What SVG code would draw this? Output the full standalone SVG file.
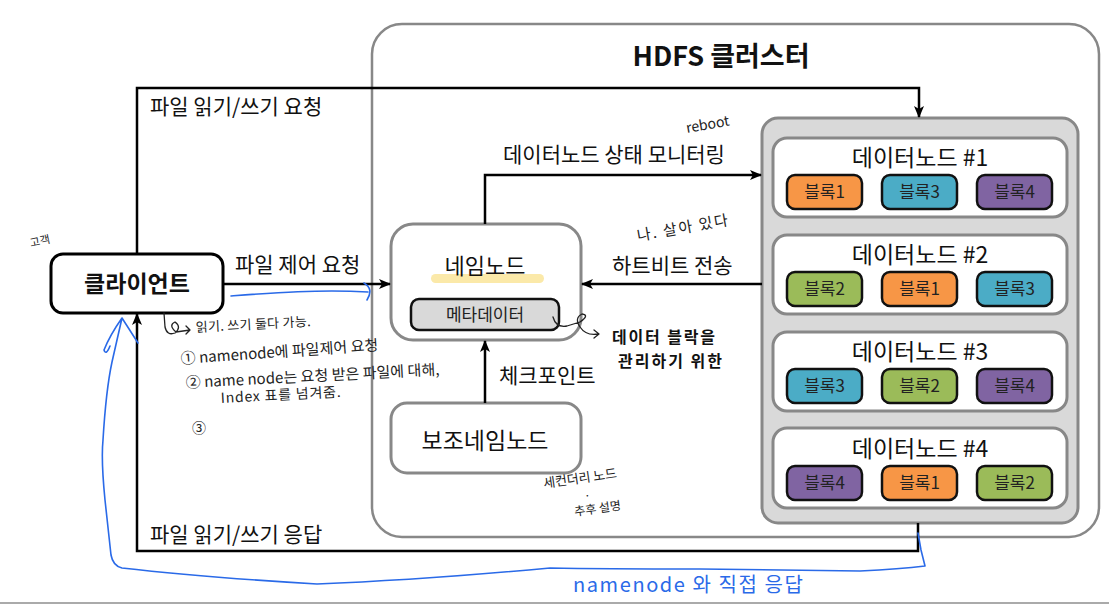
<svg xmlns="http://www.w3.org/2000/svg" width="1109" height="605" viewBox="0 0 1109 605">
<defs>
<marker id="ah" viewBox="0 0 12 10" refX="11" refY="5" markerWidth="12" markerHeight="10" markerUnits="userSpaceOnUse" orient="auto">
<path d="M0,0 L12,5 L0,10 L3,5 z" fill="#000"/>
</marker>
<style>
.lbl{font-family:"Noto Sans CJK KR","Liberation Sans",sans-serif;font-size:21px;fill:#111}
.gbox{fill:#fff;stroke:#888;stroke-width:3}
.blk{stroke:#111;stroke-width:2.5}
.blkt{font-family:"Noto Sans CJK KR","Liberation Sans",sans-serif;font-size:17px;fill:#222;text-anchor:middle}
.dnt{font-family:"Noto Sans CJK KR","Liberation Sans",sans-serif;font-size:23px;fill:#111;text-anchor:middle}
.conn{fill:none;stroke:#000;stroke-width:2.5}
.hw{font-family:"Noto Sans CJK KR","Liberation Sans",sans-serif}
.blue{fill:none;stroke:#2a6ae8;stroke-width:1.6;stroke-linecap:round;stroke-linejoin:round}
.ink{fill:none;stroke:#222;stroke-width:1.3;stroke-linecap:round;stroke-linejoin:round}
</style>
</defs>
<rect width="1109" height="605" fill="#fff"/>
<line x1="0" y1="603" x2="1109" y2="603" stroke="#aaa" stroke-width="2"/>

<g id="cluster">
<rect x="372" y="24" width="727" height="513" rx="30" fill="#fff" stroke="#888" stroke-width="2.5"/>
<text x="721" y="66" text-anchor="middle" font-family="Noto Sans CJK KR, Liberation Sans, sans-serif" font-size="27" font-weight="bold" fill="#111">HDFS 클러스터</text>
</g>

<g id="datanodes">
<rect x="762" y="118" width="316" height="405" rx="16" fill="#d9d9d9" stroke="#888" stroke-width="3"/>
</g>
<g id="datanode1">
<rect class="gbox" x="773" y="138" width="294" height="79" rx="14"/>
<text class="dnt" x="920" y="166">데이터노드 #1</text>
<rect class="blk" x="787" y="175" width="75" height="34" rx="8" fill="#f79646"/><text class="blkt" x="824.5" y="198">블록1</text>
<rect class="blk" x="882" y="175" width="75" height="34" rx="8" fill="#4bacc6"/><text class="blkt" x="919.5" y="198">블록3</text>
<rect class="blk" x="977" y="175" width="75" height="34" rx="8" fill="#8064a2"/><text class="blkt" x="1014.5" y="198">블록4</text>
</g>
<g id="datanode2">
<rect class="gbox" x="773" y="235" width="294" height="79" rx="14"/>
<text class="dnt" x="920" y="263">데이터노드 #2</text>
<rect class="blk" x="787" y="272" width="75" height="34" rx="8" fill="#9bbb59"/><text class="blkt" x="824.5" y="295">블록2</text>
<rect class="blk" x="882" y="272" width="75" height="34" rx="8" fill="#f79646"/><text class="blkt" x="919.5" y="295">블록1</text>
<rect class="blk" x="977" y="272" width="75" height="34" rx="8" fill="#4bacc6"/><text class="blkt" x="1014.5" y="295">블록3</text>
</g>
<g id="datanode3">
<rect class="gbox" x="773" y="332" width="294" height="79" rx="14"/>
<text class="dnt" x="920" y="360">데이터노드 #3</text>
<rect class="blk" x="787" y="369" width="75" height="34" rx="8" fill="#4bacc6"/><text class="blkt" x="824.5" y="392">블록3</text>
<rect class="blk" x="882" y="369" width="75" height="34" rx="8" fill="#9bbb59"/><text class="blkt" x="919.5" y="392">블록2</text>
<rect class="blk" x="977" y="369" width="75" height="34" rx="8" fill="#8064a2"/><text class="blkt" x="1014.5" y="392">블록4</text>
</g>
<g id="datanode4">
<rect class="gbox" x="773" y="428" width="294" height="80" rx="14"/>
<text class="dnt" x="920" y="457">데이터노드 #4</text>
<rect class="blk" x="787" y="466" width="75" height="34" rx="8" fill="#8064a2"/><text class="blkt" x="824.5" y="489">블록4</text>
<rect class="blk" x="882" y="466" width="75" height="34" rx="8" fill="#f79646"/><text class="blkt" x="919.5" y="489">블록1</text>
<rect class="blk" x="977" y="466" width="75" height="34" rx="8" fill="#9bbb59"/><text class="blkt" x="1014.5" y="489">블록2</text>
</g>

<g id="client">
<rect x="51" y="254" width="172" height="59" rx="12" fill="#fff" stroke="#000" stroke-width="3"/>
<text x="137" y="292" text-anchor="middle" font-family="Noto Sans CJK KR, Liberation Sans, sans-serif" font-size="23" font-weight="bold" fill="#111">클라이언트</text>
</g>

<g id="namenode">
<rect x="391" y="224" width="190" height="116" rx="22" fill="#fff" stroke="#888" stroke-width="3"/>
<rect x="431" y="274" width="113" height="9" rx="4.5" fill="#fbe9a9"/>
<text x="485" y="274" text-anchor="middle" font-family="Noto Sans CJK KR, Liberation Sans, sans-serif" font-size="22" fill="#111">네임노드</text>
<rect x="411" y="299" width="148" height="31" rx="8" fill="#d9d9d9" stroke="#111" stroke-width="2.5"/>
<text x="485" y="321" text-anchor="middle" font-family="Noto Sans CJK KR, Liberation Sans, sans-serif" font-size="17" fill="#222">메타데이터</text>
</g>

<g id="secondary">
<rect x="391" y="403" width="190" height="70" rx="16" fill="#fff" stroke="#888" stroke-width="3"/>
<text x="485" y="449" text-anchor="middle" font-family="Noto Sans CJK KR, Liberation Sans, sans-serif" font-size="23" fill="#111">보조네임노드</text>
</g>

<g id="connectors">
<path class="conn" d="M137,254 L137,88 L919,88 L919,117" marker-end="url(#ah)"/>
<path class="conn" d="M223,284 L390,284" marker-end="url(#ah)"/>
<path class="conn" d="M485,224 L485,175 L761,175" marker-end="url(#ah)"/>
<path class="conn" d="M762,284 L582,284" marker-end="url(#ah)"/>
<path class="conn" d="M485,403 L485,341" marker-end="url(#ah)"/>
<path class="conn" d="M918,523 L918,551 L137,551 L137,314" marker-end="url(#ah)"/>
<text class="lbl" x="150" y="114">파일 읽기/쓰기 요청</text>
<text class="lbl" x="235" y="272">파일 제어 요청</text>
<text class="lbl" x="503" y="162">데이터노드 상태 모니터링</text>
<text class="lbl" x="612" y="273">하트비트 전송</text>
<text class="lbl" x="499" y="383">체크포인트</text>
<text class="lbl" x="150" y="542">파일 읽기/쓰기 응답</text>
</g>

<g id="annotations" fill="#222">
<text class="hw" x="30" y="246" font-size="11" transform="rotate(-12 35 243)">고객</text>
<path class="ink" d="M164,313 L165,327 Q167,336 175,333 Q182,327 175,322 Q168,325 176,332 L190,330 M186,326 L190,330 L186,334"/>
<text class="hw" x="196" y="332" font-size="13" textLength="115" transform="rotate(-3 196 332)">읽기. 쓰기 둘다 가능.</text>
<text class="hw" x="181" y="364" font-size="15" textLength="198" transform="rotate(-4 181 364)">① namenode에 파일제어 요청</text>
<text class="hw" x="186" y="388" font-size="15" textLength="254" transform="rotate(-3 186 388)">② name node는 요청 받은 파일에 대해,</text>
<text class="hw" x="221" y="403" font-size="14" textLength="120" transform="rotate(-3 221 403)">Index 표를 넘겨줌.</text>
<text class="hw" x="192" y="433" font-size="14">③</text>
<text class="hw" x="687" y="133" font-size="14" transform="rotate(-10 687 133)">reboot</text>
<text class="hw" x="638" y="241" font-size="15" textLength="92" transform="rotate(-10 638 241)">나. 살아 있다</text>
<path class="ink" d="M553,317 Q556,328 567,326 L580,322 Q590,315 582,314 Q574,318 580,327 Q586,336 598,334 M594,330 L599,334 L594,338" stroke="#111" stroke-width="1.5"/>
<text class="hw" x="612" y="343" font-size="16" font-weight="bold" fill="#111" textLength="103">데이터 블락을</text>
<text class="hw" x="618" y="367" font-size="16" font-weight="bold" fill="#111" textLength="104">관리하기 위한</text>
<text class="hw" x="544" y="488" font-size="13" textLength="74" transform="rotate(-8 544 488)">세컨더리 노드</text>
<text class="hw" x="584" y="500" font-size="12">·</text>
<text class="hw" x="575" y="516" font-size="12" transform="rotate(-8 575 516)">추후 설명</text>
<path class="blue" d="M231,296 C270,293 320,289 368,292 M364,283 Q374,289 367,300"/>
<path class="blue" d="M918,533 L921,550 L925,566 Q900,569 860,571 L700,569 Q600,569 550,568 Q420,580 317,584 Q200,577 122,568 Q113,566 111,555 L105,500 Q101,460 103,440 Q106,390 112,362 L122,318 L138,343 M122,318 Q110,335 104,350 Q106,356 110,346"/>
<text x="573" y="592" font-family="Noto Sans CJK KR, Liberation Sans, sans-serif" font-size="20" fill="#2a6ae8" textLength="230">namenode 와 직접 응답</text>
</g>
</svg>
